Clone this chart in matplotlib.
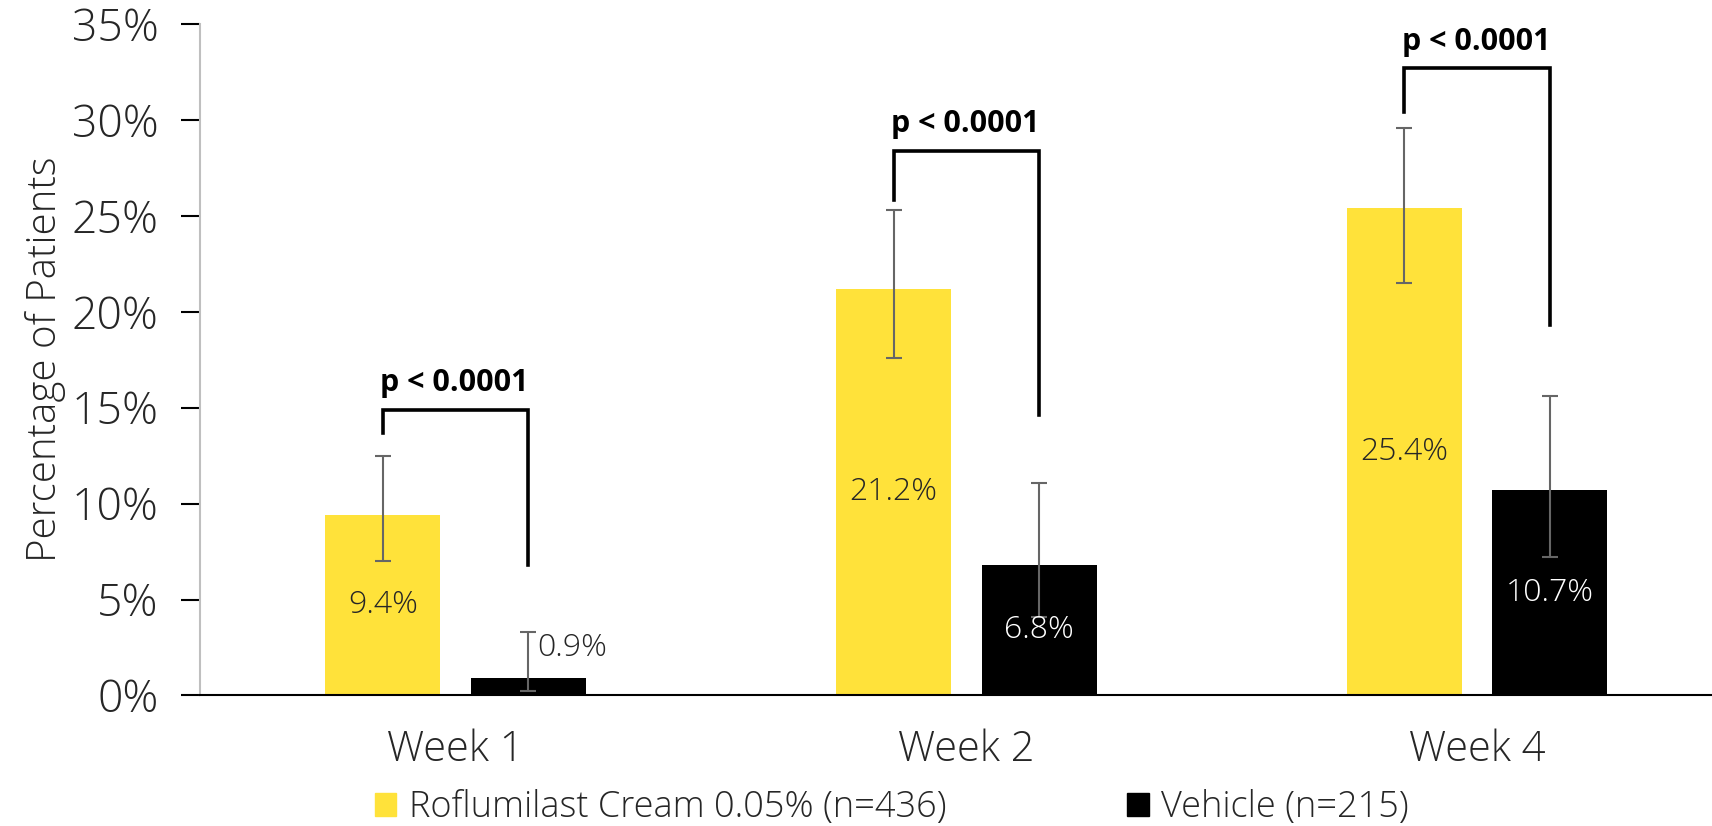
import matplotlib.pyplot as plt
import numpy as np
from matplotlib.patches import Patch

plt.rcParams["font.family"] = ["Open Sans", "DejaVu Sans"]

weeks = ["Week 1", "Week 2", "Week 4"]
roflumilast = [9.4, 21.2, 25.4]
roflumilast_lo = [7.0, 17.6, 21.5]
roflumilast_hi = [12.5, 25.3, 29.6]
vehicle = [0.9, 6.8, 10.7]
vehicle_lo = [0.25, 4.1, 7.2]
vehicle_hi = [3.3, 11.1, 15.6]
p_labels = ["p < 0.0001", "p < 0.0001", "p < 0.0001"]
# bracket heights: top bar, left leg end, right leg end
bracket_top = [14.9, 28.4, 32.7]
bracket_left = [13.7, 25.8, 30.4]
bracket_right = [6.8, 14.6, 19.3]

YELLOW = "#FFE23A"
TEXT = "#262626"
LIGHT = 300

fig = plt.figure(figsize=(17.12, 8.26), dpi=100)
# axes run a little past the right edge, like the original
ax = fig.add_axes([0.117, 0.158, 0.895, 0.813])

x = np.arange(len(weeks))
off = 0.1425
w = 0.225
xr = x - off
xv = x + off

ax.bar(xr, roflumilast, width=w, color=YELLOW, zorder=2)
ax.bar(xv, vehicle, width=w, color="black", zorder=2)

r = np.array(roflumilast)
v = np.array(vehicle)
ax.errorbar(xr, r, yerr=[r - np.array(roflumilast_lo), np.array(roflumilast_hi) - r],
            fmt="none", ecolor="#666666", elinewidth=1.5, capsize=5.5, capthick=1.5, zorder=3)
ax.errorbar(xv, v, yerr=[v - np.array(vehicle_lo), np.array(vehicle_hi) - v],
            fmt="none", ecolor="#666666", elinewidth=1.5, capsize=5.5, capthick=1.5, zorder=3)

# value labels
for i in range(len(weeks)):
    ax.text(xr[i], r[i] / 2, f"{r[i]:.1f}%", ha="center", va="center", fontsize=23,
            fontweight=LIGHT, color=TEXT, zorder=4)
    if v[i] > 3:
        ax.text(xv[i], v[i] / 2, f"{v[i]:.1f}%", ha="center", va="center", fontsize=23,
                fontweight=LIGHT, color="white", zorder=4)
    else:
        ax.text(xv[i] + 0.018, 2.5, f"{v[i]:.1f}%", ha="left", va="center", fontsize=23,
                fontweight=LIGHT, color=TEXT, zorder=4)

# significance brackets
for i in range(len(weeks)):
    ax.plot([xr[i], xr[i], xv[i], xv[i]],
            [bracket_left[i], bracket_top[i], bracket_top[i], bracket_right[i]],
            color="black", lw=2.6, solid_joinstyle="miter", zorder=4)
    ax.text(xr[i] - 0.005, bracket_top[i] + 0.6, p_labels[i], ha="left", va="bottom",
            fontsize=22, fontweight="bold", color="black")

ax.set_xlim(-0.5, 2.5)
ax.set_ylim(0, 35)
ax.set_yticks(np.arange(0, 36, 5))
ax.set_yticklabels([f"{t}%" for t in range(0, 36, 5)], fontweight=LIGHT)
ax.set_xticks(x)
ax.set_xticklabels(weeks, fontweight=LIGHT)
ax.tick_params(axis="y", labelsize=32, labelcolor=TEXT, length=14, width=1.5, direction="out", pad=16)
ax.tick_params(axis="x", labelsize=30, labelcolor=TEXT, length=0, pad=24)
ax.set_ylabel("Percentage of Patients", fontsize=29, fontweight=LIGHT, color=TEXT, labelpad=4)

for s in ["top", "right"]:
    ax.spines[s].set_visible(False)
ax.spines["left"].set_color("#bfbfbf")
ax.spines["left"].set_linewidth(1.5)
ax.spines["bottom"].set_color("black")
ax.spines["bottom"].set_linewidth(1.5)

handles = [Patch(color=YELLOW), Patch(color="black")]
fig.legend(handles, ["Roflumilast Cream 0.05% (n=436)", "Vehicle (n=215)"],
           loc="center", bbox_to_anchor=(0.521, 0.022), ncol=2, frameon=False,
           prop={"size": 26, "weight": LIGHT}, handlelength=0.6, handleheight=0.6,
           handletextpad=0.35, columnspacing=5.0, labelcolor=TEXT)

fig.savefig("out.png", dpi=100)
